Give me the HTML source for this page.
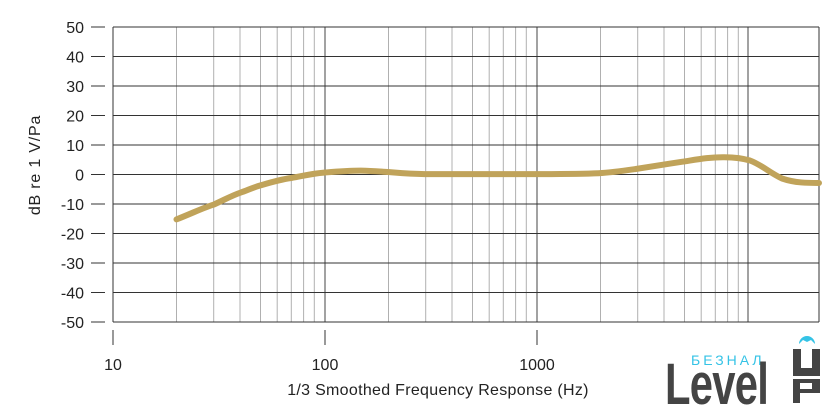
<!DOCTYPE html>
<html><head><meta charset="utf-8"><style>
html,body{margin:0;padding:0;background:#fff;}
svg{display:block;font-family:"Liberation Sans",sans-serif;}
</style></head><body>
<svg width="840" height="420" viewBox="0 0 840 420" xmlns="http://www.w3.org/2000/svg">
<g stroke="#b0b0b0" stroke-width="1">
<line x1="176.5" y1="27" x2="176.5" y2="322"/><line x1="213.7" y1="27" x2="213.7" y2="322"/><line x1="240" y1="27" x2="240" y2="322"/><line x1="260.5" y1="27" x2="260.5" y2="322"/><line x1="277.2" y1="27" x2="277.2" y2="322"/><line x1="291.3" y1="27" x2="291.3" y2="322"/><line x1="303.6" y1="27" x2="303.6" y2="322"/><line x1="314.3" y1="27" x2="314.3" y2="322"/>
<line x1="388.5" y1="27" x2="388.5" y2="322"/><line x1="425.7" y1="27" x2="425.7" y2="322"/><line x1="452" y1="27" x2="452" y2="322"/><line x1="472.5" y1="27" x2="472.5" y2="322"/><line x1="489.2" y1="27" x2="489.2" y2="322"/><line x1="503.3" y1="27" x2="503.3" y2="322"/><line x1="515.6" y1="27" x2="515.6" y2="322"/><line x1="526.3" y1="27" x2="526.3" y2="322"/>
<line x1="600.5" y1="27" x2="600.5" y2="322"/><line x1="637.7" y1="27" x2="637.7" y2="322"/><line x1="664" y1="27" x2="664" y2="322"/><line x1="684.5" y1="27" x2="684.5" y2="322"/><line x1="701.2" y1="27" x2="701.2" y2="322"/><line x1="715.3" y1="27" x2="715.3" y2="322"/><line x1="727.6" y1="27" x2="727.6" y2="322"/><line x1="738.3" y1="27" x2="738.3" y2="322"/>
</g>
<g stroke="#444" stroke-width="1">
<line x1="325" y1="27" x2="325" y2="322"/><line x1="537" y1="27" x2="537" y2="322"/><line x1="748" y1="27" x2="748" y2="322"/>
</g>
<g stroke="#333" stroke-width="1">
<line x1="113" y1="27" x2="819" y2="27"/><line x1="113" y1="56.5" x2="819" y2="56.5"/><line x1="113" y1="86" x2="819" y2="86"/><line x1="113" y1="115.5" x2="819" y2="115.5"/><line x1="113" y1="145" x2="819" y2="145"/><line x1="113" y1="174.5" x2="819" y2="174.5"/><line x1="113" y1="204" x2="819" y2="204"/><line x1="113" y1="233.5" x2="819" y2="233.5"/><line x1="113" y1="263" x2="819" y2="263"/><line x1="113" y1="292.5" x2="819" y2="292.5"/><line x1="113" y1="322" x2="819" y2="322"/>
<line x1="91" y1="27" x2="105" y2="27"/><line x1="91" y1="56.5" x2="105" y2="56.5"/><line x1="91" y1="86" x2="105" y2="86"/><line x1="91" y1="115.5" x2="105" y2="115.5"/><line x1="91" y1="145" x2="105" y2="145"/><line x1="91" y1="174.5" x2="105" y2="174.5"/><line x1="91" y1="204" x2="105" y2="204"/><line x1="91" y1="233.5" x2="105" y2="233.5"/><line x1="91" y1="263" x2="105" y2="263"/><line x1="91" y1="292.5" x2="105" y2="292.5"/><line x1="91" y1="322" x2="105" y2="322"/>
<line x1="113" y1="27" x2="113" y2="322"/><line x1="819" y1="27" x2="819" y2="322"/>
<line x1="113" y1="330" x2="113" y2="345"/><line x1="325" y1="330" x2="325" y2="345"/><line x1="537" y1="330" x2="537" y2="345"/>
</g>
<g font-size="16" text-anchor="end" fill="#222">
<text x="84" y="33">50</text><text x="84" y="62.5">40</text><text x="84" y="92">30</text><text x="84" y="121.5">20</text><text x="84" y="151">10</text><text x="84" y="180.5">0</text><text x="84" y="210">-10</text><text x="84" y="239.5">-20</text><text x="84" y="269">-30</text><text x="84" y="298.5">-40</text><text x="84" y="328">-50</text>
</g>
<g font-size="16" text-anchor="middle" fill="#222">
<text x="113" y="370">10</text><text x="325" y="370">100</text><text x="537" y="370">1000</text>
<text x="438" y="395" letter-spacing="0.3">1/3 Smoothed Frequency Response (Hz)</text>
<text transform="translate(40,165) rotate(-90)" letter-spacing="0.8">dB re 1 V/Pa</text>
</g>
<path d="M176.5,219.4 C195,212 205,207 213.7,204.6 C225,199.5 232,195.5 240,192.8 C248,190 253,187.5 260.5,185.4 C272,182 280,179.5 291.3,178 C303,176 312,173.5 324,172.6 C337,171.5 348,170.5 361.2,170.6 C372,170.8 380,171.5 387.5,172 C400,173 410,174 424.7,174.1 L535,174.1 C560,174 580,174 598.5,173.2 C612,172.5 622,171 635.7,169 C652,166.5 667,164 682.5,161.7 C697,159.5 710,157 724.3,157.2 C735,157.3 742,158 750,160.5 C762,165 770,173 782,178.5 C795,183 808,183 819,183" fill="none" stroke="#c0a35a" stroke-width="6" stroke-linecap="round"/>
<rect x="656" y="323" width="184" height="97" fill="#fff"/>
<text x="691" y="365" font-size="14" letter-spacing="3" fill="#35c3e6">БЕЗНАЛ</text>
<text x="0" y="0" font-size="58" font-weight="bold" fill="#444" transform="translate(665,404) scale(0.72,1)" letter-spacing="-1">Level</text>
<rect x="793" y="349" width="27" height="27" fill="#444"/>
<rect x="801" y="349" width="11" height="19" fill="#fff"/>
<rect x="793" y="379" width="27" height="24" fill="#444"/>
<rect x="800" y="383" width="12" height="6" fill="#fff"/>
<rect x="800" y="393" width="20" height="10" fill="#fff"/>
<path d="M799,344 A8,8 0 1 1 815,344 L811,340 L807,342 L803,340 Z" fill="#35c3e6"/>
</svg>
</body></html>
